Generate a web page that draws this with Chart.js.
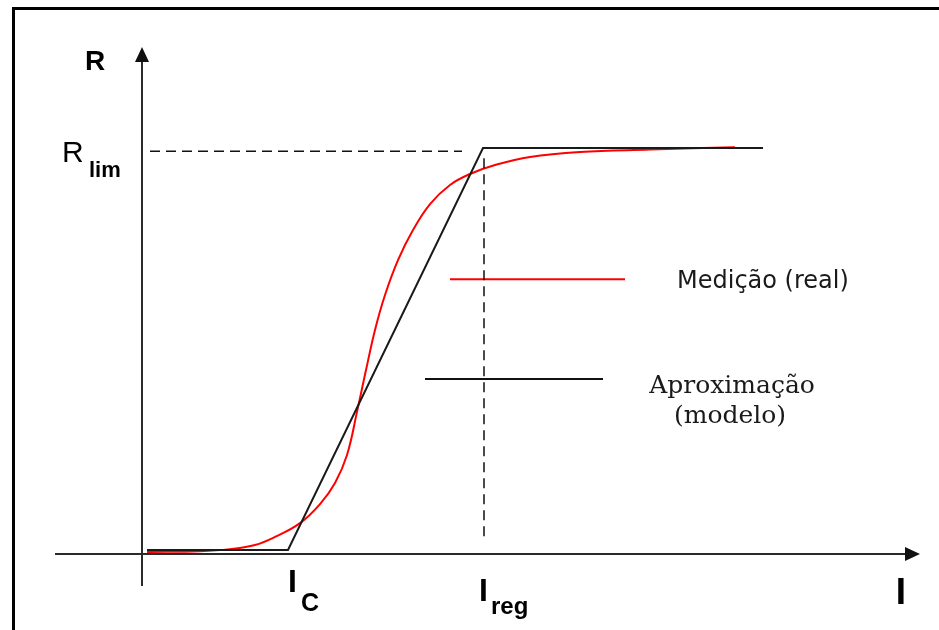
<!DOCTYPE html>
<html>
<head>
<meta charset="utf-8">
<script src="https://cdn.jsdelivr.net/npm/chart.js@4"></script>
<style>
  html, body { margin: 0; padding: 0; background: #fff; }
  #wrap { position: relative; width: 939px; height: 630px; overflow: hidden; background: #fff; }
  #frame { position: absolute; left: 12px; top: 7px; width: 1000px; height: 1000px;
           border-left: 3px solid #000; border-top: 3px solid #000; pointer-events: none; }
  canvas { position: absolute; left: 0; top: 0; }
</style>
</head>
<body>
<div id="wrap">
  <canvas id="c" width="939" height="630"></canvas>
  <div id="frame"></div>
</div>
<script>
// ---- Data (I in arbitrary units, R in % of R_lim) ----
const measuredI = [0.5, 5.8, 8.8, 11.3, 13.3, 15.8, 17.8, 19.3, 20.5, 21.5, 22.4, 23.3, 24.3, 25.6, 27.1, 28.8, 30.8, 32.8, 35.3, 38.8, 43.8, 50.8, 59.3];
const measuredR = [0.5, 0.7, 1.2, 2.2, 4.2, 7.6, 12.3, 17.5, 24.4, 35.0, 45.3, 55.2, 63.8, 72.4, 79.8, 86.2, 90.9, 93.6, 95.8, 97.8, 99.0, 99.6, 100.2];
const modelI = [0.5, 14.6, 34.1, 62.1];
const modelR = [1.0, 1.0, 100, 100];
const I_C = 14.6;
const I_reg = 34.2;
const R_lim = 99.2;
const seriesNames = ['Medição (real)', 'Aproximação', '(modelo)'];
const axisNames = ['R', 'I'];
const tickLabels = [['R', 'lim'], ['I', 'C'], ['I', 'reg']];

const pts = (xs, ys) => xs.map((x, i) => ({ x: x, y: ys[i] }));

const axesPlugin = {
  id: 'axesPlugin',
  beforeDatasetsDraw(chart) {
    const ctx = chart.ctx, xs = chart.scales.x, ys = chart.scales.y;
    const x0 = xs.getPixelForValue(0), y0 = ys.getPixelForValue(0);
    const xStart = xs.getPixelForValue(-8.7), xEnd = xs.getPixelForValue(77.8);
    const yBottom = ys.getPixelForValue(-7.9), yTop = ys.getPixelForValue(124.9);
    ctx.save();
    ctx.strokeStyle = '#2a2a2a';
    ctx.fillStyle = '#111';
    ctx.lineWidth = 2;
    ctx.beginPath();
    ctx.moveTo(xStart, y0); ctx.lineTo(xEnd - 12, y0);
    ctx.moveTo(x0, yBottom); ctx.lineTo(x0, yTop + 12);
    ctx.stroke();
    ctx.beginPath();
    ctx.moveTo(xEnd, y0); ctx.lineTo(xEnd - 15, y0 - 7); ctx.lineTo(xEnd - 15, y0 + 7); ctx.closePath();
    ctx.fill();
    ctx.beginPath();
    ctx.moveTo(x0, yTop); ctx.lineTo(x0 - 7, yTop + 15); ctx.lineTo(x0 + 7, yTop + 15); ctx.closePath();
    ctx.fill();
    ctx.restore();
  },
  afterDraw(chart) {
    const ctx = chart.ctx, xs = chart.scales.x, ys = chart.scales.y;
    const x0 = xs.getPixelForValue(0), y0 = ys.getPixelForValue(0);
    const sans = '"Liberation Sans", Arial, sans-serif';
    ctx.save();
    ctx.fillStyle = '#000';
    ctx.textBaseline = 'alphabetic';
    // axis names
    ctx.textAlign = 'center';
    ctx.font = 'bold 28px ' + sans;
    ctx.fillText(axisNames[0], x0 - 47, ys.getPixelForValue(124.9) + 23);
    ctx.font = 'bold 37px ' + sans;
    ctx.fillText(axisNames[1], xs.getPixelForValue(77.8) - 19, y0 + 50);
    // R_lim
    const yl = ys.getPixelForValue(R_lim);
    ctx.textAlign = 'left';
    ctx.font = '30px ' + sans;
    ctx.fillText(tickLabels[0][0], x0 - 80, yl + 11);
    ctx.font = 'bold 22px ' + sans;
    ctx.fillText(tickLabels[0][1], x0 - 53, yl + 26);
    // I_C
    const xc = xs.getPixelForValue(I_C);
    ctx.font = 'bold 32px ' + sans;
    ctx.fillText(tickLabels[1][0], xc + 0, y0 + 38);
    ctx.font = 'bold 25px ' + sans;
    ctx.fillText(tickLabels[1][1], xc + 13, y0 + 57);
    // I_reg
    const xr = xs.getPixelForValue(I_reg);
    ctx.font = 'bold 32px ' + sans;
    ctx.fillText(tickLabels[2][0], xr - 5, y0 + 47);
    ctx.font = 'bold 24px ' + sans;
    ctx.fillText(tickLabels[2][1], xr + 7, y0 + 60);
    // legend texts
    const redEnd = xs.getPixelForValue(48.3), redY = ys.getPixelForValue(67.7);
    ctx.fillStyle = '#1a1a1a';
    ctx.font = '24px "DejaVu Sans", sans-serif';
    ctx.fillText(seriesNames[0], redEnd + 52, redY + 9);
    const blkEnd = xs.getPixelForValue(46.1), blkY = ys.getPixelForValue(43.1);
    ctx.textAlign = 'center';
    ctx.font = '25px "DejaVu Serif", serif';
    ctx.fillText(seriesNames[1], blkEnd + 129, blkY + 14);
    ctx.fillText(seriesNames[2], blkEnd + 127, blkY + 44);
    ctx.restore();
  }
};

new Chart(document.getElementById('c'), {
  type: 'scatter',
  data: {
    datasets: [
      { label: 'R_lim guide', data: [{ x: 0.8, y: R_lim }, { x: 32.0, y: R_lim }], showLine: true,
        borderColor: '#111', borderWidth: 1.5, borderDash: [10, 6], pointRadius: 0 },
      { label: 'I_reg guide', data: [{ x: I_reg, y: 97.5 }, { x: I_reg, y: 3 }], showLine: true,
        borderColor: '#111', borderWidth: 1.5, borderDash: [10, 6], pointRadius: 0 },
      { label: seriesNames[1], data: pts(modelI, modelR), showLine: true,
        borderColor: '#1a1a1a', borderWidth: 2, pointRadius: 0, tension: 0 },
      { label: seriesNames[0], data: pts(measuredI, measuredR), showLine: true,
        borderColor: '#ff0000', borderWidth: 2, pointRadius: 0, tension: 0.4 },
      { label: 'legend red', data: [{ x: 30.8, y: 67.7 }, { x: 48.3, y: 67.7 }], showLine: true,
        borderColor: '#ff0000', borderWidth: 2, pointRadius: 0 },
      { label: 'legend black', data: [{ x: 28.3, y: 43.1 }, { x: 46.1, y: 43.1 }], showLine: true,
        borderColor: '#111', borderWidth: 2, pointRadius: 0 }
    ]
  },
  options: {
    responsive: false,
    animation: false,
    layout: { padding: 0 },
    plugins: { legend: { display: false }, tooltip: { enabled: false }, title: { display: false } },
    scales: {
      x: { type: 'linear', display: false, min: -14.2, max: 79.7 },
      y: { type: 'linear', display: false, min: -18.72, max: 136.45 }
    }
  },
  plugins: [axesPlugin]
});
</script>
</body>
</html>
